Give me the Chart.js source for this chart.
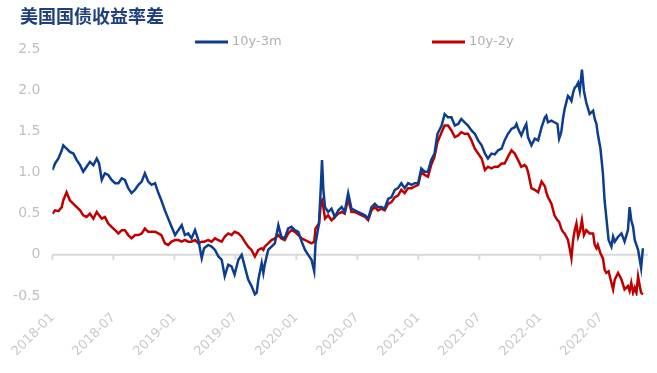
<!DOCTYPE html>
<html><head><meta charset="utf-8">
<script src="https://cdn.jsdelivr.net/npm/chart.js@4"></script>
<style>html,body{margin:0;padding:0;background:#fff;}canvas{display:block;}</style>
</head><body>
<canvas id="c" width="657" height="373"></canvas>
<script>
const chartTitle = '美国国债收益率差';
const seriesNames = ['10y-3m', '10y-2y'];
const dates = [
'2018-01-01','2018-01-09','2018-01-19','2018-01-29','2018-02-03','2018-02-13','2018-02-23','2018-03-03','2018-03-13','2018-03-23',
'2018-04-02','2018-04-12','2018-04-22','2018-05-02','2018-05-12','2018-05-19','2018-05-27','2018-06-06','2018-06-16','2018-06-26',
'2018-07-06','2018-07-16','2018-07-26','2018-08-05','2018-08-15','2018-08-25','2018-09-05','2018-09-15','2018-09-25','2018-10-04',
'2018-10-14','2018-10-24','2018-11-04','2018-11-14','2018-11-23','2018-12-03','2018-12-13','2018-12-23','2019-01-03','2019-01-13',
'2019-01-23','2019-02-02','2019-02-12','2019-02-22','2019-03-02','2019-03-12','2019-03-22','2019-03-29','2019-04-11','2019-04-21',
'2019-05-01','2019-05-11','2019-05-21','2019-05-30','2019-06-10','2019-06-20','2019-06-29','2019-07-10','2019-07-20','2019-07-29',
'2019-08-09','2019-08-19','2019-08-29','2019-09-04','2019-09-09','2019-09-19','2019-09-24','2019-09-28','2019-10-08','2019-10-18',
'2019-10-28','2019-11-08','2019-11-17','2019-11-27','2019-12-07','2019-12-17','2019-12-27','2020-01-07','2020-01-17','2020-01-27',
'2020-02-06','2020-02-16','2020-02-24','2020-02-28','2020-03-08','2020-03-14','2020-03-17','2020-03-21','2020-03-26','2020-04-05',
'2020-04-15','2020-04-25','2020-05-05','2020-05-15','2020-05-24','2020-06-04','2020-06-14','2020-06-24','2020-07-04','2020-07-14',
'2020-07-24','2020-08-03','2020-08-13','2020-08-23','2020-09-02','2020-09-12','2020-09-22','2020-10-02','2020-10-12','2020-10-22',
'2020-11-01','2020-11-11','2020-11-21','2020-12-01','2020-12-11','2020-12-21','2020-12-31','2021-01-10','2021-01-20','2021-01-30',
'2021-02-09','2021-02-19','2021-02-28','2021-03-10','2021-03-19','2021-03-29','2021-04-09','2021-04-19','2021-04-29','2021-05-08',
'2021-05-18','2021-05-28','2021-06-08','2021-06-18','2021-06-28','2021-07-08','2021-07-18','2021-07-27','2021-08-07','2021-08-17',
'2021-08-27','2021-09-07','2021-09-16','2021-09-26','2021-10-06','2021-10-16','2021-10-21','2021-10-26','2021-11-05','2021-11-15',
'2021-11-20','2021-11-25','2021-12-05','2021-12-15','2021-12-25','2022-01-05','2022-01-15','2022-01-19','2022-01-24','2022-02-04',
'2022-02-13','2022-02-22','2022-02-27','2022-03-03','2022-03-08','2022-03-13','2022-03-23','2022-03-28','2022-04-03','2022-04-08',
'2022-04-13','2022-04-18','2022-04-23','2022-04-28','2022-05-04','2022-05-10','2022-05-17','2022-05-27','2022-06-07','2022-06-12',
'2022-06-17','2022-06-21','2022-06-29','2022-07-06','2022-07-11','2022-07-16','2022-07-23','2022-08-01','2022-08-06','2022-08-11',
'2022-08-21','2022-08-31','2022-09-10','2022-09-20','2022-09-25','2022-09-30','2022-10-05','2022-10-10','2022-10-15','2022-10-20',
'2022-10-25','2022-10-29','2022-11-04'
];
const spread10y3m = [
1.03,1.11,1.17,1.27,1.33,1.29,1.25,1.23,1.15,1.09,
1.01,1.07,1.13,1.09,1.17,1.11,0.91,0.99,0.97,0.91,
0.87,0.87,0.93,0.91,0.81,0.75,0.79,0.85,0.89,0.99,
0.89,0.85,0.87,0.75,0.66,0.54,0.44,0.34,0.24,0.30,
0.36,0.24,0.26,0.20,0.30,0.18,-0.04,0.08,0.12,0.10,
0.06,-0.02,-0.06,-0.26,-0.12,-0.14,-0.24,-0.06,0.00,-0.14,
-0.30,-0.38,-0.48,-0.46,-0.30,-0.10,-0.22,-0.12,0.06,0.10,
0.14,0.36,0.22,0.20,0.32,0.34,0.30,0.28,0.16,0.06,
0.00,-0.06,-0.20,0.14,0.38,0.87,1.15,0.79,0.58,0.52,
0.56,0.46,0.54,0.58,0.52,0.75,0.56,0.54,0.52,0.50,
0.48,0.44,0.58,0.62,0.58,0.58,0.56,0.68,0.70,0.79,
0.81,0.87,0.81,0.87,0.85,0.87,0.87,1.05,1.01,1.01,
1.15,1.23,1.47,1.57,1.71,1.67,1.67,1.57,1.59,1.65,
1.61,1.57,1.51,1.47,1.39,1.33,1.23,1.17,1.23,1.22,
1.27,1.29,1.39,1.47,1.53,1.55,1.59,1.53,1.45,1.55,
1.59,1.43,1.33,1.41,1.39,1.55,1.67,1.69,1.61,1.63,
1.61,1.59,1.41,1.49,1.65,1.77,1.93,1.91,1.87,1.97,
2.03,2.05,2.09,1.99,2.25,1.99,1.85,1.71,1.75,1.65,
1.59,1.47,1.29,0.99,0.66,0.46,0.18,0.10,0.22,0.16,
0.22,0.26,0.16,0.30,0.58,0.42,0.34,0.18,0.12,0.06,
-0.06,-0.16,0.08
];
const spread10y2y = [
0.50,0.54,0.53,0.58,0.66,0.76,0.66,0.62,0.58,0.54,
0.48,0.46,0.50,0.44,0.52,0.48,0.44,0.46,0.38,0.34,
0.30,0.26,0.30,0.30,0.24,0.20,0.24,0.24,0.26,0.32,
0.28,0.28,0.28,0.26,0.24,0.14,0.12,0.16,0.18,0.18,
0.16,0.18,0.16,0.16,0.18,0.14,0.16,0.16,0.18,0.16,
0.20,0.18,0.16,0.22,0.26,0.24,0.28,0.26,0.22,0.16,
0.10,0.06,-0.02,0.02,0.06,0.08,0.06,0.10,0.14,0.18,
0.20,0.24,0.20,0.18,0.26,0.30,0.28,0.24,0.20,0.18,
0.16,0.14,0.16,0.32,0.38,0.64,0.66,0.58,0.44,0.48,
0.42,0.46,0.50,0.52,0.50,0.68,0.52,0.52,0.50,0.48,
0.46,0.42,0.54,0.58,0.54,0.56,0.54,0.62,0.64,0.70,
0.72,0.79,0.75,0.81,0.81,0.83,0.85,1.01,0.97,0.95,
1.09,1.19,1.37,1.49,1.57,1.57,1.51,1.43,1.45,1.49,
1.47,1.47,1.39,1.29,1.23,1.17,1.03,1.07,1.05,1.07,
1.07,1.11,1.11,1.19,1.27,1.23,1.19,1.15,1.07,1.09,
1.07,1.01,0.81,0.79,0.76,0.89,0.83,0.76,0.70,0.62,
0.48,0.42,0.40,0.32,0.28,0.26,0.18,0.08,-0.04,0.18,
0.30,0.38,0.22,0.28,0.42,0.24,0.30,0.26,0.26,0.12,
0.08,0.12,0.02,-0.04,-0.18,-0.22,-0.20,-0.34,-0.42,-0.30,
-0.22,-0.30,-0.42,-0.38,-0.44,-0.34,-0.46,-0.40,-0.46,-0.26,
-0.38,-0.46,-0.48
];
const xTickLabels = ['2018-01','2018-07','2019-01','2019-07','2020-01','2020-07','2021-01','2021-07','2022-01','2022-07'];
const yTickValues = [-0.5, 0, 0.5, 1, 1.5, 2, 2.5];

const colors = ['#0d3d8f', '#c00000'];

function monthsSinceStart(d) {
  const [y, m, day] = d.split('-').map(Number);
  return (y - 2018) * 12 + (m - 1) + (day - 1) / 30.4;
}
const xs = dates.map(monthsSinceStart);
function pts(vals) { return vals.map((v, i) => ({ x: xs[i], y: v })); }

const decorPlugin = {
  id: 'decor',
  beforeDatasetsDraw(chart) {
    const ctx = chart.ctx, a = chart.chartArea;
    const y0 = chart.scales.y.getPixelForValue(0);
    ctx.save();
    ctx.strokeStyle = '#d9d9d9';
    ctx.lineWidth = 2;
    ctx.beginPath();
    ctx.moveTo(a.left, y0); ctx.lineTo(a.right, y0);
    chart.scales.x.ticks.forEach(t => {
      const px = chart.scales.x.getPixelForValue(t.value);
      ctx.moveTo(px, y0); ctx.lineTo(px, y0 + 5);
    });
    ctx.stroke();
    ctx.restore();
  },
  afterDraw(chart) {
    const ctx = chart.ctx;
    ctx.save();
    ctx.fillStyle = '#1f3f7f';
    ctx.font = 'bold 18px "Noto Sans CJK SC"';
    ctx.textBaseline = 'middle';
    ctx.textAlign = 'left';
    ctx.fillText(chartTitle, 20, 16);
    const items = [{ x: 195 }, { x: 432 }];
    ctx.font = '13px "DejaVu Sans"';
    chart.data.datasets.forEach((ds, i) => {
      const lx = items[i].x;
      ctx.strokeStyle = ds.borderColor;
      ctx.lineWidth = 3;
      ctx.beginPath();
      ctx.moveTo(lx, 42); ctx.lineTo(lx + 33, 42);
      ctx.stroke();
      ctx.fillStyle = '#b0b0b0';
      ctx.fillText(ds.label, lx + 37, 42);
    });
    ctx.restore();
  }
};

new Chart(document.getElementById('c'), {
  type: 'line',
  data: {
    datasets: [
      { label: seriesNames[0], data: pts(spread10y3m), borderColor: colors[0], backgroundColor: colors[0], borderWidth: 2.5, pointRadius: 0, tension: 0 },
      { label: seriesNames[1], data: pts(spread10y2y), borderColor: colors[1], backgroundColor: colors[1], borderWidth: 2.5, pointRadius: 0, tension: 0 }
    ]
  },
  options: {
    responsive: false,
    animation: false,
    devicePixelRatio: 1,
    layout: { padding: { top: 49, right: 9, left: 0, bottom: 0 } },
    plugins: { legend: { display: false }, title: { display: false }, tooltip: { enabled: false } },
    scales: {
      x: {
        type: 'linear', min: 0, max: 58.6,
        grid: { display: false, drawTicks: false },
        border: { display: false },
        afterBuildTicks: s => { s.ticks = s.ticks.filter(t => t.value % 6 === 0 && t.value / 6 < xTickLabels.length); },
        afterFit: s => { s.height = 77; },
        ticks: {
          stepSize: 6, autoSkip: false, minRotation: 45, maxRotation: 45, padding: 14,
          color: '#c8c8c8', font: { family: 'DejaVu Sans', size: 13 },
          callback: v => xTickLabels[v / 6]
        }
      },
      y: {
        min: yTickValues[0], max: yTickValues[yTickValues.length - 1],
        grid: { display: false, drawTicks: false },
        border: { display: false },
        afterFit: s => { s.width = 52; },
        ticks: { stepSize: 0.5, padding: 12, color: '#c0c0c0', font: { family: 'DejaVu Sans', size: 14 } }
      }
    }
  },
  plugins: [decorPlugin]
});
</script>
</body></html>
